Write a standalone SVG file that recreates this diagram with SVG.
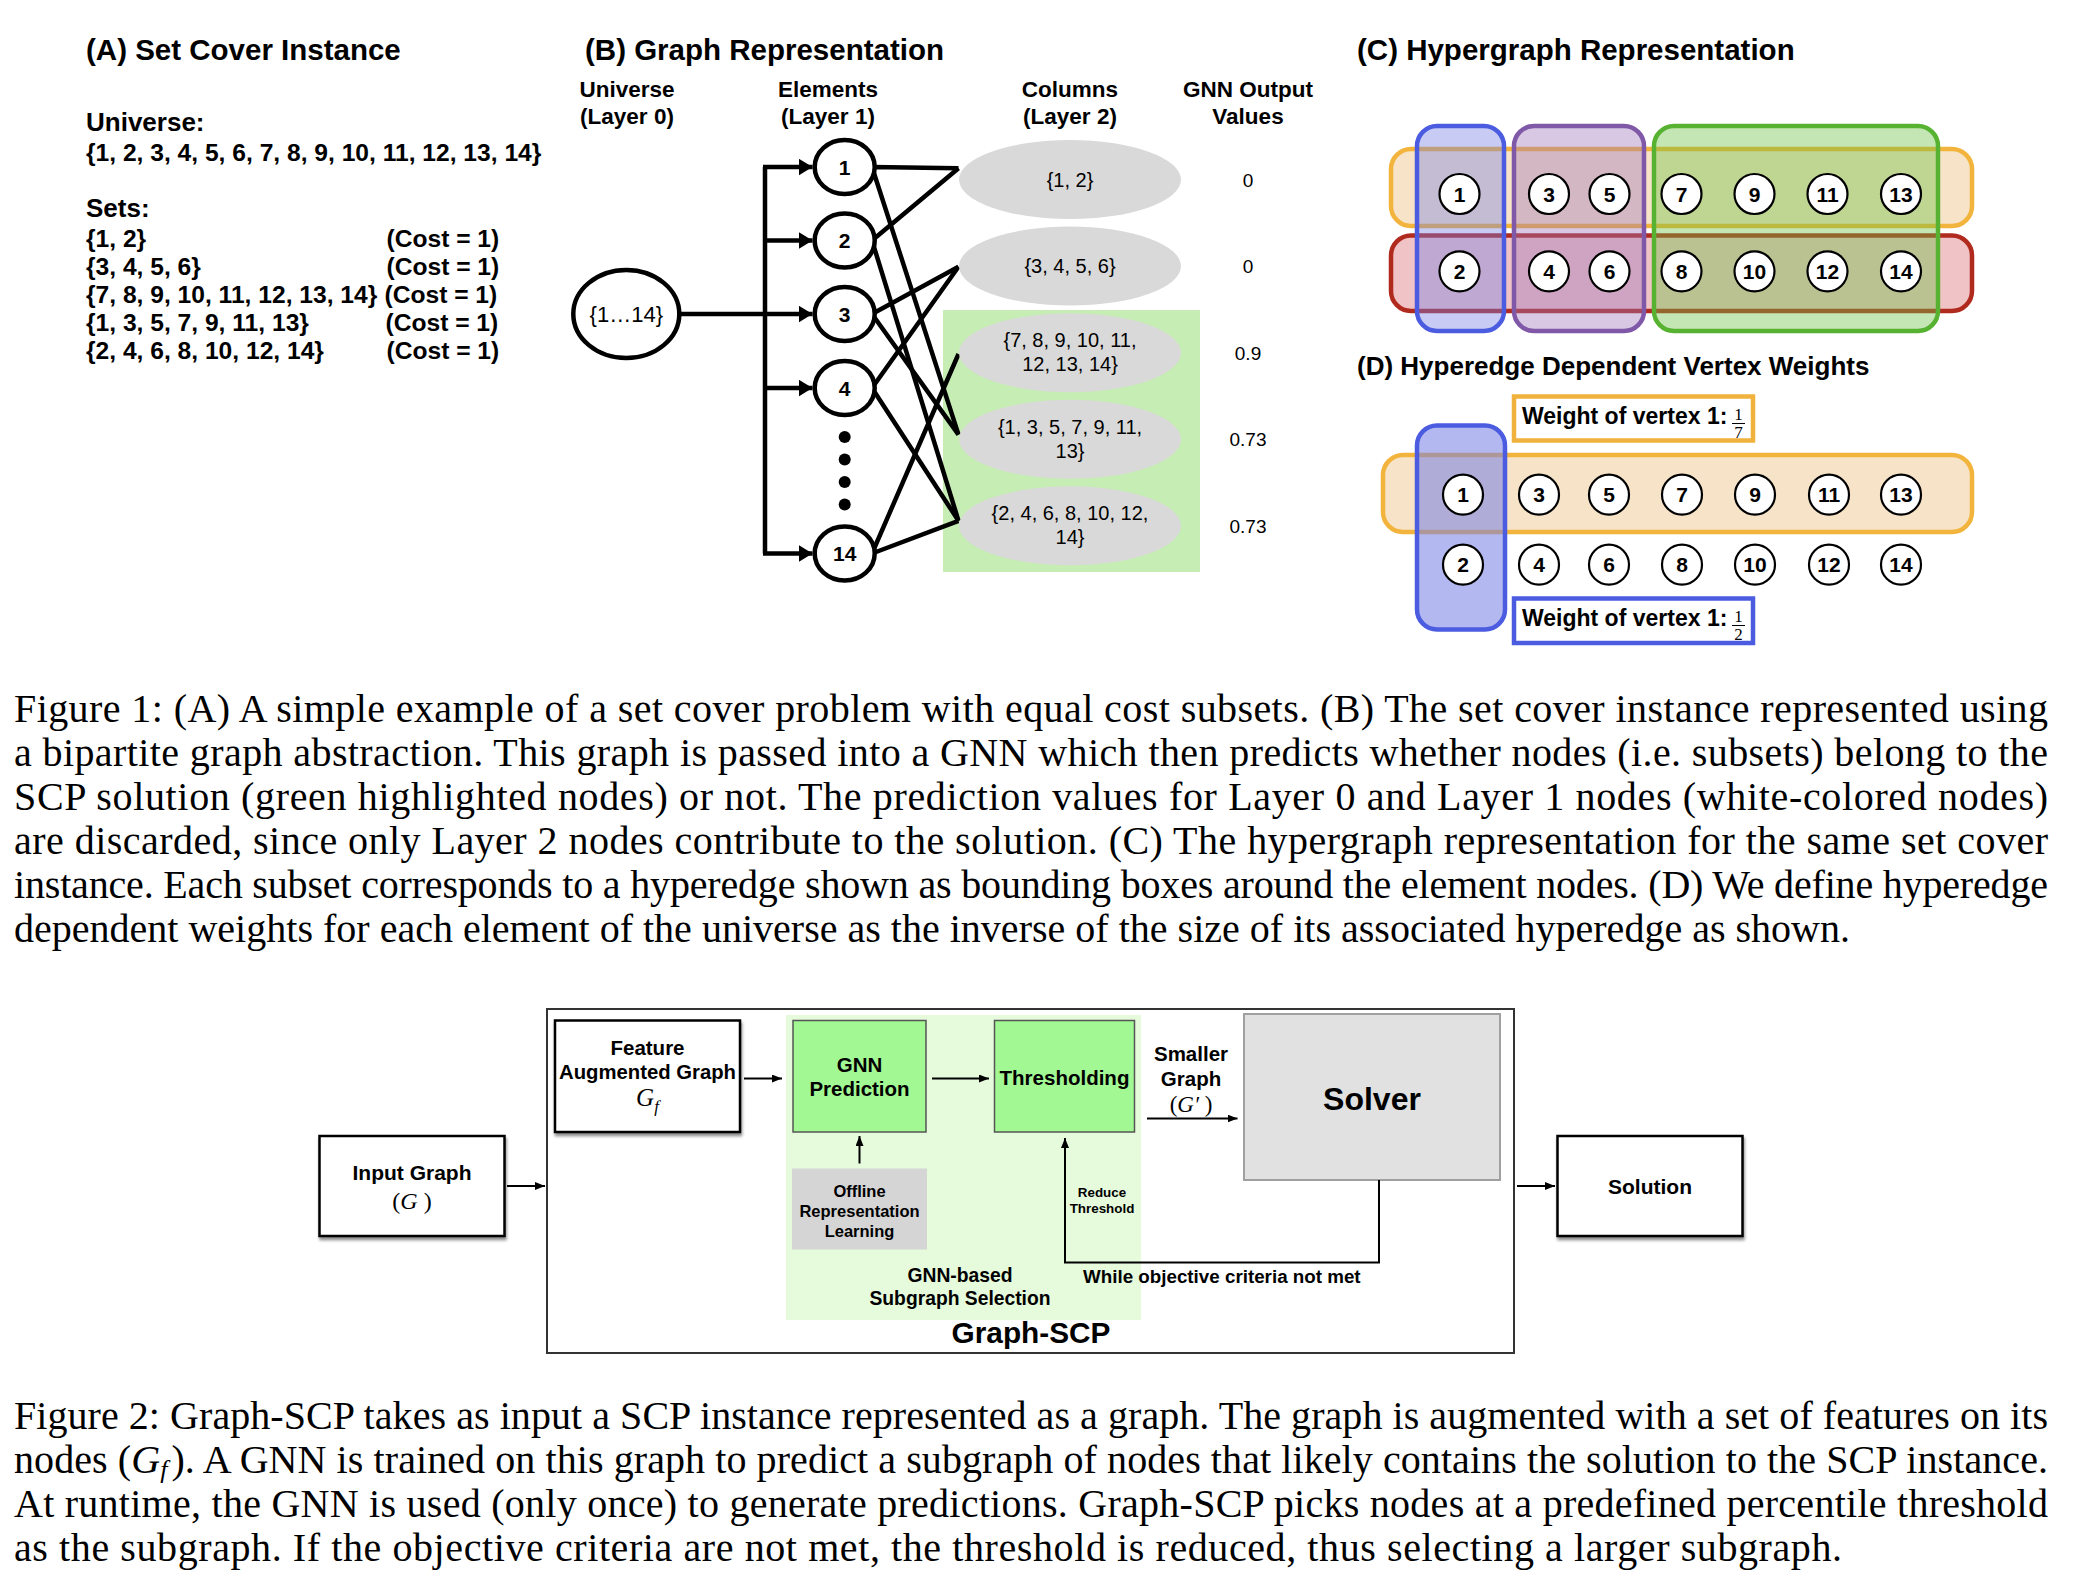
<svg xmlns="http://www.w3.org/2000/svg" width="2076" height="1588" viewBox="0 0 2076 1588">
<defs>
<style>
.sb{font-family:'Liberation Sans',Arial,sans-serif;font-weight:bold;fill:#000}
.sr{font-family:'Liberation Sans',Arial,sans-serif;fill:#000}
.sf{font-family:'Liberation Serif','Times New Roman',serif;fill:#000}
.cap{font-family:'Liberation Serif','Times New Roman',serif;font-size:40px;fill:#000}
.ttl{font-size:29.5px}
.mid{text-anchor:middle}
.ln{stroke:#000;stroke-width:4.5;fill:none}
.en{fill:#fff;stroke:#000;stroke-width:4.5}
.col{fill:#d9d9d9}
.hn{fill:#fff;stroke:#000;stroke-width:2.2}
.hl{font-size:21px;text-anchor:middle}
.bl{font-size:21px;text-anchor:middle}
.cl{font-size:20px;text-anchor:middle}
.ar{stroke:#000;stroke-width:2;fill:none}
.bx{fill:#fff;stroke:#000;stroke-width:2.5}
.gb{fill:#a2f893;stroke:#555;stroke-width:1.5}
</style>
<marker id="ab" markerUnits="userSpaceOnUse" markerWidth="14" markerHeight="17" refX="14" refY="8.5" orient="auto" viewBox="0 0 14 17"><path d="M0,0L14,8.5L0,17z" fill="#000"/></marker>
<marker id="a2" markerUnits="userSpaceOnUse" markerWidth="10" markerHeight="8" refX="10" refY="4" orient="auto" viewBox="0 0 10 8"><path d="M0,0L10,4L0,8z" fill="#000"/></marker>
<filter id="sh" x="-10%" y="-10%" width="130%" height="140%"><feDropShadow dx="1" dy="3" stdDeviation="1.5" flood-color="#000" flood-opacity="0.45"/></filter>
</defs>
<rect x="0" y="0" width="2076" height="1588" fill="#fff"/>

<!-- Panel A -->
<g id="panelA">
<text class="sb ttl" x="86" y="60">(A) Set Cover Instance</text>
<text class="sb" font-size="26" x="86" y="131">Universe:</text>
<text class="sb" font-size="24.6" x="86" y="161">{1, 2, 3, 4, 5, 6, 7, 8, 9, 10, 11, 12, 13, 14}</text>
<text class="sb" font-size="26" x="86" y="217">Sets:</text>
<g font-size="24.6" class="sb">
<text class="sb" x="86" y="246.5">{1, 2}</text><text class="sb" x="386.5" y="246.5">(Cost = 1)</text>
<text class="sb" x="86" y="274.5">{3, 4, 5, 6}</text><text class="sb" x="386.5" y="274.5">(Cost = 1)</text>
<text class="sb" x="86" y="302.5">{7, 8, 9, 10, 11, 12, 13, 14}</text><text class="sb" x="384.5" y="302.5">(Cost = 1)</text>
<text class="sb" x="86" y="330.5">{1, 3, 5, 7, 9, 11, 13}</text><text class="sb" x="385.5" y="330.5">(Cost = 1)</text>
<text class="sb" x="86" y="358.5">{2, 4, 6, 8, 10, 12, 14}</text><text class="sb" x="386.5" y="358.5">(Cost = 1)</text>
</g>
</g>

<!-- Panel B -->
<g id="panelB-title">
<text class="sb ttl" x="585" y="60">(B) Graph Representation</text>
<g class="sb mid" font-size="22.5">
<text class="sb mid" x="627" y="97">Universe</text><text class="sb mid" x="627" y="123.5">(Layer 0)</text>
<text class="sb mid" x="828" y="97">Elements</text><text class="sb mid" x="828" y="123.5">(Layer 1)</text>
<text class="sb mid" x="1070" y="97">Columns</text><text class="sb mid" x="1070" y="123.5">(Layer 2)</text>
<text class="sb mid" x="1248" y="97">GNN Output</text><text class="sb mid" x="1248" y="123.5">Values</text>
</g>
</g>
<rect id="B-selected" x="943" y="310" width="257" height="262" fill="#c6edb3"/>

<g id="connectors-B">
<path class="ln" d="M681,314H812.5" marker-end="url(#ab)"/>
<path class="ln" d="M765,167V553.5"/>
<path class="ln" d="M763,167H812.5" marker-end="url(#ab)"/>
<path class="ln" d="M765,240.5H812.5" marker-end="url(#ab)"/>
<path class="ln" d="M765,388H812.5" marker-end="url(#ab)"/>
<path class="ln" d="M763,553.5H812.5" marker-end="url(#ab)"/>
<path class="ln" d="M872,167L958.5,168.3M872,167L958.5,434.6"/>
<path class="ln" d="M872,240.5L958.5,168.3M872,240.5L958.5,520.8"/>
<path class="ln" d="M872,314L958.5,266.7M872,314L958.5,434.6"/>
<path class="ln" d="M872,388L958.5,266.7M872,388L958.5,520.8"/>
<path class="ln" d="M872,553.5L958.5,354M872,553.5L958.5,520.8"/>
</g>

<g id="B-universe">
<ellipse class="en" cx="626.3" cy="314" rx="53" ry="44"/>
<text class="sr mid" font-size="22" x="626.3" y="322">{1…14}</text>
</g>
<g id="B-el-1"><ellipse class="en" cx="844.7" cy="167" rx="30" ry="27"/><text class="sb bl" x="844.7" y="174.5">1</text></g>
<g id="B-el-2"><ellipse class="en" cx="844.7" cy="240.5" rx="30" ry="27"/><text class="sb bl" x="844.7" y="248">2</text></g>
<g id="B-el-3"><ellipse class="en" cx="844.7" cy="314" rx="30" ry="27"/><text class="sb bl" x="844.7" y="321.5">3</text></g>
<g id="B-el-4"><ellipse class="en" cx="844.7" cy="388" rx="30" ry="27"/><text class="sb bl" x="844.7" y="395.5">4</text></g>
<g id="B-dots" fill="#000"><circle cx="844.7" cy="437" r="6"/><circle cx="844.7" cy="459.5" r="6"/><circle cx="844.7" cy="482" r="6"/><circle cx="844.7" cy="504.5" r="6"/></g>
<g id="B-el-14"><ellipse class="en" cx="844.7" cy="553.5" rx="30" ry="27"/><text class="sb bl" x="844.7" y="561">14</text></g>

<g id="B-col-1"><ellipse class="col" cx="1070" cy="179.6" rx="111" ry="39.5"/><text class="sr cl" x="1070" y="186.6">{1, 2}</text><text class="sr mid" font-size="19" x="1248" y="186.6">0</text></g>
<g id="B-col-2"><ellipse class="col" cx="1070" cy="266.1" rx="111" ry="39.5"/><text class="sr cl" x="1070" y="273.1">{3, 4, 5, 6}</text><text class="sr mid" font-size="19" x="1248" y="273.1">0</text></g>
<g id="B-col-3"><ellipse class="col" cx="1070" cy="352.7" rx="111" ry="39.5"/><text class="sr cl" x="1070" y="347">{7, 8, 9, 10, 11,</text><text class="sr cl" x="1070" y="371">12, 13, 14}</text><text class="sr mid" font-size="19" x="1248" y="359.7">0.9</text></g>
<g id="B-col-4"><ellipse class="col" cx="1070" cy="439.3" rx="111" ry="39.5"/><text class="sr cl" x="1070" y="433.6">{1, 3, 5, 7, 9, 11,</text><text class="sr cl" x="1070" y="457.6">13}</text><text class="sr mid" font-size="19" x="1248" y="446.3">0.73</text></g>
<g id="B-col-5"><ellipse class="col" cx="1070" cy="525.8" rx="111" ry="39.5"/><text class="sr cl" x="1070" y="520.1">{2, 4, 6, 8, 10, 12,</text><text class="sr cl" x="1070" y="544.1">14}</text><text class="sr mid" font-size="19" x="1248" y="532.8">0.73</text></g>

<!-- Panel C -->
<g id="panelC">
<text class="sb ttl" x="1357" y="60">(C) Hypergraph Representation</text>
<rect id="C-odd" x="1391" y="149" width="581" height="77" rx="20" fill="#f7e4c8" stroke="#f2b43c" stroke-width="4.5"/>
<rect id="C-even" x="1391" y="235.5" width="581" height="75.5" rx="20" fill="#f0c3c6" stroke="#b02a1e" stroke-width="4.5"/>
<rect id="C-12" x="1417" y="126" width="87" height="205" rx="20" fill="rgb(117,127,228)" fill-opacity="0.4" stroke="#4c5ce0" stroke-width="4.5"/>
<rect id="C-3456" x="1514" y="126" width="130" height="205" rx="20" fill="rgb(157,118,188)" fill-opacity="0.4" stroke="#8058a8" stroke-width="4.5"/>
<rect id="C-7to14" x="1654" y="126" width="284" height="205" rx="20" fill="rgb(108,193,68)" fill-opacity="0.4" stroke="#58b232" stroke-width="4.5"/>
<g class="sb">
<circle class="hn" cx="1459.5" cy="194" r="20"/><text class="sb hl" x="1459.5" y="201.5">1</text>
<circle class="hn" cx="1549" cy="194" r="20"/><text class="sb hl" x="1549" y="201.5">3</text>
<circle class="hn" cx="1609.5" cy="194" r="20"/><text class="sb hl" x="1609.5" y="201.5">5</text>
<circle class="hn" cx="1681.5" cy="194" r="20"/><text class="sb hl" x="1681.5" y="201.5">7</text>
<circle class="hn" cx="1754.5" cy="194" r="20"/><text class="sb hl" x="1754.5" y="201.5">9</text>
<circle class="hn" cx="1827.5" cy="194" r="20"/><text class="sb hl" x="1827.5" y="201.5">11</text>
<circle class="hn" cx="1901" cy="194" r="20"/><text class="sb hl" x="1901" y="201.5">13</text>
<circle class="hn" cx="1459.5" cy="271.3" r="20"/><text class="sb hl" x="1459.5" y="278.8">2</text>
<circle class="hn" cx="1549" cy="271.3" r="20"/><text class="sb hl" x="1549" y="278.8">4</text>
<circle class="hn" cx="1609.5" cy="271.3" r="20"/><text class="sb hl" x="1609.5" y="278.8">6</text>
<circle class="hn" cx="1681.5" cy="271.3" r="20"/><text class="sb hl" x="1681.5" y="278.8">8</text>
<circle class="hn" cx="1754.5" cy="271.3" r="20"/><text class="sb hl" x="1754.5" y="278.8">10</text>
<circle class="hn" cx="1827.5" cy="271.3" r="20"/><text class="sb hl" x="1827.5" y="278.8">12</text>
<circle class="hn" cx="1901" cy="271.3" r="20"/><text class="sb hl" x="1901" y="278.8">14</text>
</g>
</g>

<!-- Panel D -->
<g id="panelD">
<text class="sb" font-size="26" x="1357" y="375">(D) Hyperedge Dependent Vertex Weights</text>
<g id="D-w7">
<rect x="1514" y="396.5" width="239" height="44" fill="#fff" stroke="#f0b23c" stroke-width="4.5"/>
<text class="sb" font-size="23" x="1522" y="423.5">Weight of vertex 1:</text>
<text class="sf mid" font-size="17" x="1738.5" y="420">1</text>
<line x1="1732" y1="423.5" x2="1745" y2="423.5" stroke="#000" stroke-width="1"/>
<text class="sf mid" font-size="17" x="1738.5" y="437.5">7</text>
</g>
<rect id="D-odd" x="1383" y="455" width="589" height="77" rx="20" fill="#f7e4c8" stroke="#f2b43c" stroke-width="4.5"/>
<rect id="D-12" x="1417" y="425.5" width="88" height="204" rx="20" fill="rgb(117,127,228)" fill-opacity="0.55" stroke="#4c5ce0" stroke-width="4.5"/>
<g class="sb">
<circle class="hn" cx="1463" cy="494.7" r="20"/><text class="sb hl" x="1463" y="502.2">1</text>
<circle class="hn" cx="1539" cy="494.7" r="20"/><text class="sb hl" x="1539" y="502.2">3</text>
<circle class="hn" cx="1609" cy="494.7" r="20"/><text class="sb hl" x="1609" y="502.2">5</text>
<circle class="hn" cx="1682" cy="494.7" r="20"/><text class="sb hl" x="1682" y="502.2">7</text>
<circle class="hn" cx="1755" cy="494.7" r="20"/><text class="sb hl" x="1755" y="502.2">9</text>
<circle class="hn" cx="1829" cy="494.7" r="20"/><text class="sb hl" x="1829" y="502.2">11</text>
<circle class="hn" cx="1901" cy="494.7" r="20"/><text class="sb hl" x="1901" y="502.2">13</text>
<circle class="hn" cx="1463" cy="564.7" r="20"/><text class="sb hl" x="1463" y="572.2">2</text>
<circle class="hn" cx="1539" cy="564.7" r="20"/><text class="sb hl" x="1539" y="572.2">4</text>
<circle class="hn" cx="1609" cy="564.7" r="20"/><text class="sb hl" x="1609" y="572.2">6</text>
<circle class="hn" cx="1682" cy="564.7" r="20"/><text class="sb hl" x="1682" y="572.2">8</text>
<circle class="hn" cx="1755" cy="564.7" r="20"/><text class="sb hl" x="1755" y="572.2">10</text>
<circle class="hn" cx="1829" cy="564.7" r="20"/><text class="sb hl" x="1829" y="572.2">12</text>
<circle class="hn" cx="1901" cy="564.7" r="20"/><text class="sb hl" x="1901" y="572.2">14</text>
</g>
<g id="D-w2">
<rect x="1514" y="598.5" width="239" height="44.5" fill="#fff" stroke="#4c5ce0" stroke-width="4.5"/>
<text class="sb" font-size="23" x="1522" y="625.5">Weight of vertex 1:</text>
<text class="sf mid" font-size="17" x="1738.5" y="622">1</text>
<line x1="1732" y1="625.5" x2="1745" y2="625.5" stroke="#000" stroke-width="1"/>
<text class="sf mid" font-size="17" x="1738.5" y="640">2</text>
</g>
</g>

<!-- Figure 1 caption -->
<g id="caption1" class="cap">
<text class="cap" x="14" y="722" textLength="2034" lengthAdjust="spacing">Figure 1: (A) A simple example of a set cover problem with equal cost subsets. (B) The set cover instance represented using</text>
<text class="cap" x="14" y="766" textLength="2034" lengthAdjust="spacing">a bipartite graph abstraction. This graph is passed into a GNN which then predicts whether nodes (i.e. subsets) belong to the</text>
<text class="cap" x="14" y="810" textLength="2034" lengthAdjust="spacing">SCP solution (green highlighted nodes) or not. The prediction values for Layer 0 and Layer 1 nodes (white-colored nodes)</text>
<text class="cap" x="14" y="854" textLength="2034" lengthAdjust="spacing">are discarded, since only Layer 2 nodes contribute to the solution. (C) The hypergraph representation for the same set cover</text>
<text class="cap" x="14" y="898" textLength="2034" lengthAdjust="spacing">instance. Each subset corresponds to a hyperedge shown as bounding boxes around the element nodes. (D) We define hyperedge</text>
<text class="cap" x="14" y="942" textLength="1836" lengthAdjust="spacing">dependent weights for each element of the universe as the inverse of the size of its associated hyperedge as shown.</text>
</g>

<!-- Figure 2 -->
<g id="F2-graphscp">
<rect x="547" y="1009" width="967" height="344" fill="#fff" stroke="#333" stroke-width="2"/>
<text class="sb mid" font-size="29.8" x="1031" y="1343">Graph-SCP</text>
</g>
<g id="F2-selection">
<rect x="786" y="1015" width="355" height="305" fill="#e6fbdc"/>
<text class="sb mid" font-size="19.3" x="960" y="1281.5">GNN-based</text>
<text class="sb mid" font-size="19.3" x="960" y="1304.5">Subgraph Selection</text>
</g>
<g id="F2-input">
<rect class="bx" x="319.5" y="1136" width="185" height="100" filter="url(#sh)"/>
<text class="sb mid" font-size="21" x="412" y="1180">Input Graph</text>
<text class="sf mid" font-size="24" x="412" y="1209">(<tspan font-style="italic">G</tspan> )</text>
</g>
<g id="F2-feature">
<rect class="bx" x="555" y="1020.5" width="185" height="111.5" filter="url(#sh)"/>
<text class="sb mid" font-size="20.5" x="647.5" y="1055">Feature</text>
<text class="sb mid" font-size="20.5" x="647.5" y="1078.5" textLength="177" lengthAdjust="spacingAndGlyphs">Augmented Graph</text>
<text class="sf mid" font-size="25" font-style="italic" x="647.5" y="1106">G<tspan font-size="17" dy="6">f</tspan></text>
</g>
<g id="F2-gnn">
<rect class="gb" x="793" y="1020.5" width="133" height="111.5"/>
<text class="sb mid" font-size="20.5" x="859.5" y="1071.5">GNN</text>
<text class="sb mid" font-size="20.5" x="859.5" y="1095.5">Prediction</text>
</g>
<g id="F2-offline">
<rect x="792" y="1168.5" width="135" height="81" fill="#d5d5d5"/>
<text class="sb mid" font-size="16.5" x="859.5" y="1197">Offline</text>
<text class="sb mid" font-size="16.5" x="859.5" y="1217">Representation</text>
<text class="sb mid" font-size="16.5" x="859.5" y="1237">Learning</text>
</g>
<g id="F2-threshold">
<rect class="gb" x="994.5" y="1020.5" width="140" height="111.5"/>
<text class="sb mid" font-size="20.5" x="1064.5" y="1084.5">Thresholding</text>
</g>
<g id="F2-solver">
<rect x="1244" y="1014" width="256" height="166" fill="#e1e1e1" stroke="#a0a0a0" stroke-width="2"/>
<text class="sb mid" font-size="32" x="1372" y="1109.5">Solver</text>
</g>
<g id="F2-solution">
<rect class="bx" x="1557.5" y="1136" width="185" height="100" filter="url(#sh)"/>
<text class="sb mid" font-size="21" x="1650" y="1193.5">Solution</text>
</g>
<g id="F2-connectors">
<path class="ar" d="M507,1186H545" marker-end="url(#a2)"/>
<path class="ar" d="M744,1078.5H782" marker-end="url(#a2)"/>
<path class="ar" d="M932,1078.5H989" marker-end="url(#a2)"/>
<path class="ar" d="M859.5,1163.5V1136" marker-end="url(#a2)"/>
<path class="ar" d="M1147,1118.5H1237.5" marker-end="url(#a2)"/>
<path class="ar" d="M1379,1180V1262.5H1065V1138" marker-end="url(#a2)"/>
<path class="ar" d="M1517,1186H1555" marker-end="url(#a2)"/>
<text class="sb mid" font-size="20.5" x="1191" y="1060.5">Smaller</text>
<text class="sb mid" font-size="20.5" x="1191" y="1085.5">Graph</text>
<text class="sf mid" font-size="23" x="1191" y="1112">(<tspan font-style="italic">G′</tspan> )</text>
<text class="sb mid" font-size="13.4" x="1102" y="1197">Reduce</text>
<text class="sb mid" font-size="13.4" x="1102" y="1213">Threshold</text>
<text class="sb" font-size="18.8" x="1083" y="1282.5">While objective criteria not met</text>
</g>

<!-- Figure 2 caption -->
<g id="caption2" class="cap">
<text class="cap" x="14" y="1429" textLength="2034" lengthAdjust="spacing">Figure 2: Graph-SCP takes as input a SCP instance represented as a graph. The graph is augmented with a set of features on its</text>
<text class="cap" x="14" y="1473" textLength="2034" lengthAdjust="spacing">nodes (<tspan font-style="italic">G</tspan><tspan font-style="italic" font-size="26" dy="5">f</tspan><tspan dx="4" dy="-5">). A GNN is trained on this graph to predict a subgraph of nodes that likely contains the solution to the SCP instance.</tspan></text>
<text class="cap" x="14" y="1517" textLength="2034" lengthAdjust="spacing">At runtime, the GNN is used (only once) to generate predictions. Graph-SCP picks nodes at a predefined percentile threshold</text>
<text class="cap" x="14" y="1561" textLength="1828" lengthAdjust="spacing">as the subgraph. If the objective criteria are not met, the threshold is reduced, thus selecting a larger subgraph.</text>
</g>
</svg>
